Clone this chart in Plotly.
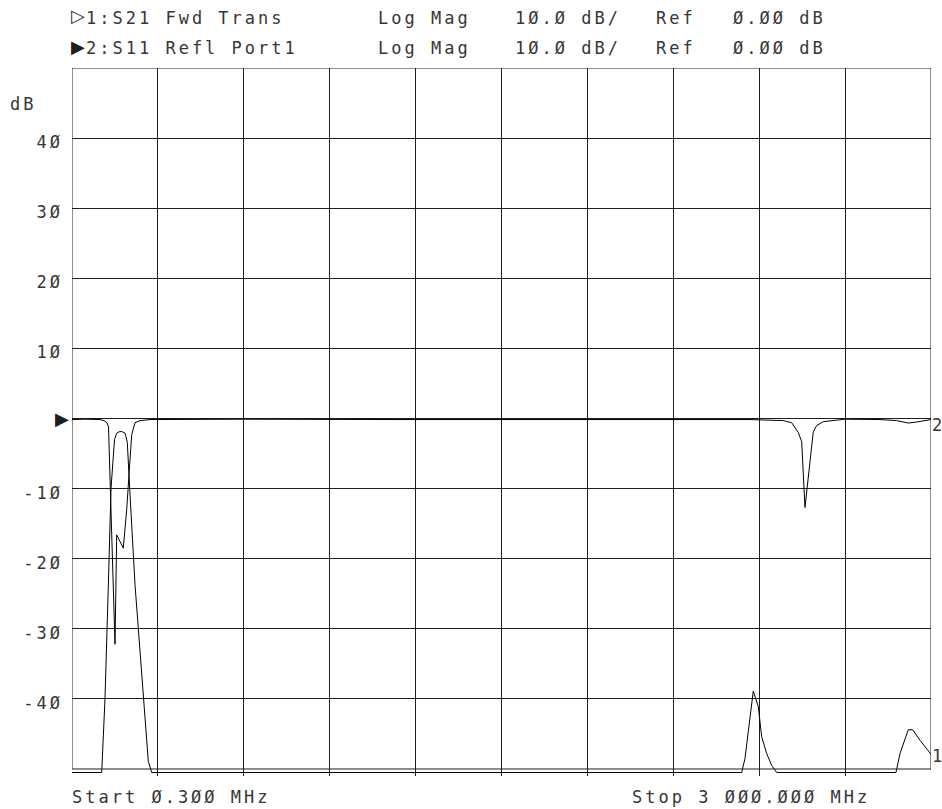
import plotly.graph_objects as go

# ---------------- data ----------------
# Trace 1: S21 forward transmission (MHz, dB); floor values sit just below the -50 dB bottom line
s21_freq = [0.3, 104.0, 115.5, 121.5, 127.1, 136.5, 143.5, 148.7, 156.4, 164.4, 173.9, 185.4,
            189.0, 193.4, 201.8, 214.7, 220.3, 231.8, 249.3, 266.7, 278.6,
            2338.9, 2350.4, 2361.9, 2379.4, 2396.9, 2408.7, 2426.2, 2443.7, 2461.1,
            2877.7, 2891.7, 2909.1, 2920.7, 2936.0, 2961.5, 3000.0]
s21_db = [-50.5, -50.5, -40.0, -30.0, -24.0, -10.0, -5.0, -3.0, -2.1, -1.9, -1.85, -2.1,
          -2.6, -3.4, -10.0, -20.0, -23.7, -29.9, -40.1, -48.9, -50.5,
          -50.5, -48.5, -44.4, -38.9, -41.1, -45.4, -47.8, -49.5, -50.5,
          -50.5, -47.8, -45.9, -44.4, -44.4, -45.9, -47.9]

# Trace 2: S11 reflection at port 1 (MHz, dB)
s11_freq = [0.3, 45.7, 98.1, 112.0, 122.5, 127.8, 150.5, 156.4, 179.4, 191.3, 202.8, 208.8,
            220.3, 237.8, 272.7, 600.2, 1146.0, 1844.0, 2368.0, 2484.2, 2513.5, 2536.5,
            2548.4, 2559.9, 2588.9, 2600.8, 2623.8, 2699.6, 2821.8, 2880.1, 2920.7, 2950.0,
            3000.0]
s11_db = [-0.15, -0.1, -0.15, -0.3, -0.6, -1.2, -32.2, -16.6, -18.5, -13.0, -5.9, -2.3,
          -0.6, -0.3, -0.15, -0.1, -0.15, -0.1, -0.15, -0.3, -0.6, -2.0,
          -3.3, -12.7, -1.9, -1.0, -0.45, -0.1, -0.15, -0.3, -0.65, -0.5,
          -0.15]

trace_end_labels = ["1", "2"]

y_tick_vals = [40, 30, 20, 10, -10, -20, -30, -40]
y_tick_text = ["4Ø", "3Ø", "2Ø", "1Ø", "-1Ø", "-2Ø", "-3Ø", "-4Ø"]
y_unit = "dB"

header_channels = ["1:S21 Fwd Trans", "2:S11 Refl Port1"]
header_format = "Log Mag"
header_scale = "1Ø.Ø dB/"
header_ref_word = "Ref"
header_ref_value = "Ø.ØØ dB"
start_label = "Start Ø.3ØØ MHz"
stop_label = "Stop 3 ØØØ.ØØØ MHz"

f_start, f_stop = 0.3, 3000.0
db_top, db_bottom, db_per_div = 50, -50, 10
n_xdiv = 10

# ---------------- layout helpers ----------------
W, H = 942, 809
L, R, T, B = 72, 11, 68, 33
FONT = "DejaVu Sans Mono"
INK = "#1e1e1e"
TEXT_INK = "#363636"


def px(x):
    return (x - L) / (W - L - R)


def py(y):
    return (H - B - y) / (H - T - B)


def spaced(text, sp=3.0):
    return f'<span style="letter-spacing:{sp}px">{text}</span>'


fig = go.Figure()
fig.add_trace(go.Scatter(x=s21_freq, y=s21_db, mode="lines",
                         line=dict(color="#000000", width=1), name="S21",
                         hoverinfo="skip"))
fig.add_trace(go.Scatter(x=s11_freq, y=s11_db, mode="lines",
                         line=dict(color="#000000", width=1), name="S11",
                         hoverinfo="skip"))

annotations = []


def text_at(x, y, s, size=17, anchor="left", font=FONT, sp=3.0, color=TEXT_INK):
    annotations.append(dict(x=px(x), y=py(y), xref="paper", yref="paper",
                            text=spaced(s, sp) if sp else s, showarrow=False,
                            xanchor=anchor, yanchor="middle",
                            font=dict(family=font, size=size, color=color)))


row_y = [17.5, 48.5]
for i, ch in enumerate(header_channels):
    y = row_y[i]
    text_at(84, y, ch)
    text_at(376, y, header_format)
    text_at(513, y, header_scale)
    text_at(654, y, header_ref_word)
    text_at(731, y, header_ref_value)

# channel markers in the header and the reference-level marker
text_at(69, 15.5, "▷", size=18, font="DejaVu Sans", sp=0)
text_at(69, 46, "▶", size=18, font="DejaVu Sans", sp=0, color=INK)
text_at(53, 418.5, "▶", size=18, font="DejaVu Sans", sp=0, color=INK)

text_at(8, 104, y_unit)
text_at(70, 797, start_label)
text_at(630, 797, stop_label)
text_at(930, 425, trace_end_labels[1], sp=0)
text_at(930, 756, trace_end_labels[0], sp=0)

fig.update_layout(
    width=W, height=H,
    margin=dict(l=L, r=R, t=T, b=B, pad=0),
    paper_bgcolor="white", plot_bgcolor="white",
    showlegend=False,
    annotations=annotations,
    shapes=[dict(type="rect", xref="x", yref="y", x0=f_start, x1=f_stop,
                 y0=db_bottom, y1=db_top, line=dict(color=INK, width=1))],
    xaxis=dict(range=[f_start, f_stop], tick0=f_start,
               dtick=(f_stop - f_start) / n_xdiv, showgrid=True,
               gridcolor=INK, gridwidth=1, showticklabels=False, ticks="",
               zeroline=False, showline=False, fixedrange=True),
    yaxis=dict(range=[db_bottom - 1, db_top], tickvals=y_tick_vals,
               ticktext=[spaced(t) for t in y_tick_text], showgrid=True,
               gridcolor=INK, gridwidth=1, zeroline=True, zerolinecolor=INK,
               zerolinewidth=1, ticks="", ticklabelstandoff=8,
               ticklabelshift=4,
               tickfont=dict(family=FONT, size=17, color=TEXT_INK),
               showline=False, fixedrange=True),
)

fig.write_html("out.html", config={"displayModeBar": False},
               post_script="document.body.style.margin='0';")
